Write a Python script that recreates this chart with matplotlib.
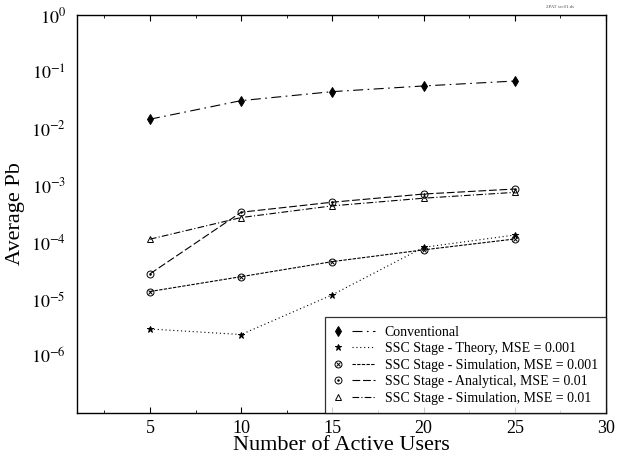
import numpy as np
import matplotlib
matplotlib.use("Agg")
import matplotlib.pyplot as plt
from matplotlib.lines import Line2D
from matplotlib.legend_handler import HandlerBase
from matplotlib.ticker import MultipleLocator, FixedLocator

plt.rcParams["font.family"] = ["Liberation Serif", "DejaVu Serif"]
plt.rcParams["mathtext.fontset"] = "stix"

users = [5, 10, 15, 20, 25]

pb_conventional = [0.0147, 0.0312, 0.0449, 0.0565, 0.069]
pb_theory_001 = [3.0e-6, 2.4e-6, 1.2e-5, 8.2e-5, 1.35e-4]
pb_sim_001 = [1.37e-5, 2.5e-5, 4.6e-5, 7.4e-5, 1.15e-4]
pb_analytical_01 = [2.8e-5, 3.4e-4, 5.1e-4, 7.1e-4, 8.7e-4]
pb_sim_01 = [1.14e-4, 2.74e-4, 4.4e-4, 6.0e-4, 7.6e-4]

labels = [
    "Conventional",
    "SSC Stage - Theory, MSE = 0.001",
    "SSC Stage - Simulation, MSE = 0.001",
    "SSC Stage - Analytical, MSE = 0.01",
    "SSC Stage - Simulation, MSE = 0.01",
]

LW = 0.8
# each marker is a stack of simple matplotlib markers: (marker, size, filled)
glyphs = [
    [("d", 5, True)],
    [("*", 4.5, True)],
    [("o", 5, False), ("x", 3.5, False)],
    [("o", 5, False), (".", 2.2, True)],
    [("^", 5, False)],
]
dashes = [
    (0, (9, 4, 1.5, 4)),
    (0, (1, 2.5)),
    (0, (3, 1.2)),
    (0, (7, 2.5)),
    (0, (6, 2, 1, 2)),
]
values = [pb_conventional, pb_theory_001, pb_sim_001, pb_analytical_01, pb_sim_01]


def marker_kw(mk, ms, filled):
    return dict(linestyle="none", marker=mk, ms=ms, mfc="black" if filled else "none",
                mec="black", mew=0.7)


class Entry:
    def __init__(self, glyph, dash):
        self.glyph = glyph
        self.dash = dash


class EntryHandler(HandlerBase):
    """Marker on the left, a short line sample on the right."""

    def create_artists(self, legend, orig, xd, yd, width, height, fontsize, trans):
        y = yd + height / 2
        arts = []
        for mk, ms, filled in orig.glyph:
            arts.append(Line2D([xd + width * 0.12], [y], transform=trans,
                               **marker_kw(mk, ms, filled)))
        arts.append(Line2D([xd + width * 0.45, xd + width], [y, y], color="black",
                           lw=LW, linestyle=orig.dash, transform=trans))
        return arts


fig = plt.figure(figsize=(6.19, 4.61), dpi=100)
ax = fig.add_axes([77 / 619, 48 / 461, 529 / 619, 398 / 461])

handles = []
for vals, dash, glyph in zip(values, dashes, glyphs):
    ax.plot(users, vals, color="black", lw=LW, linestyle=dash)
    for mk, ms, filled in glyph:
        ax.plot(users, vals, **marker_kw(mk, ms, filled))
    handles.append(Entry(glyph, dash))

ax.set_yscale("log")
ax.set_xlim(1, 30)
ax.set_ylim(1e-7, 1)
ax.yaxis.set_major_locator(FixedLocator([1e0, 1e-1, 1e-2, 1e-3, 1e-4, 1e-5, 1e-6]))
ax.yaxis.set_minor_locator(FixedLocator([]))
ax.set_yticklabels(["$10^{0}$", "$10^{-1}$", "$10^{-2}$", "$10^{-3}$",
                    "$10^{-4}$", "$10^{-5}$", "$10^{-6}$"])
ax.xaxis.set_major_locator(FixedLocator([5, 10, 15, 20, 25, 30]))
ax.xaxis.set_minor_locator(MultipleLocator(2.5))
ax.tick_params(axis="x", which="both", direction="in", top=True, labelsize=13, pad=5)
ax.tick_params(axis="x", which="major", length=4)
ax.tick_params(axis="x", which="minor", length=2)
ax.tick_params(axis="y", which="both", length=0, labelsize=13, pad=8)

ax.set_xlabel("Number of Active Users", fontsize=16, labelpad=-1)
ax.set_ylabel("Average Pb", fontsize=16, labelpad=4)

for sp in ax.spines.values():
    sp.set_linewidth(1.0)

leg = ax.legend(handles, labels, handler_map={Entry: EntryHandler()},
                loc="lower right", fontsize=10, frameon=True, fancybox=False,
                edgecolor="black", borderaxespad=0, handlelength=3.0,
                handletextpad=0.7, labelspacing=0.25, borderpad=0.6)
leg.get_frame().set_linewidth(0.9)

fig.text(0.905, 0.982, "2PAT ssc01.ds", fontsize=3.5, color="0.3", ha="center")

fig.savefig("out.png", dpi=100)
